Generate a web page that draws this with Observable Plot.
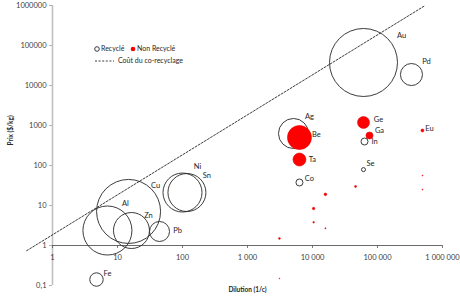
<!DOCTYPE html>
<html><head><meta charset="utf-8">
<script src="https://cdn.jsdelivr.net/npm/d3@7"></script>
<script src="https://cdn.jsdelivr.net/npm/@observablehq/plot@0.6"></script>
<style>
body{margin:0;background:#fff}
#chart{width:460px;height:298px}
svg{font-family:Lato,"Open Sans",sans-serif}
</style>
</head><body><div id="chart"></div>
<script>
// ---- Data: Recyclé (open bubbles)
const recNames    = ["Au","Pd","Ag","In","Se","Co","Cu","Al","Zn","Pb","Ni","Sn","Fe"];
const recDilution = [60900,333000,5100,63100,60900,6300,14.8,7.0,16.4,44.3,100,117,4.75];
const recPrix     = [37600,18800,631,398,79,37.6,7.1,2.37,2.37,2.24,21.1,21.1,0.141];
const recTaille   = [100,10.5,19.5,1.06,0.35,1.06,88.6,52,28,8.65,32.9,31.2,3.9];

// ---- Data: Non Recyclé (red bubbles)
const nonNames    = ["Be","Ge","Ga","Eu","Ta","","","","","","","","",""];
const nonDilution = [6300,60900,75300,491000,6300,46000,15800,10400,10400,15800,3100,491000,491000,3100];
const nonPrix     = [501,1190,562,750,141,30,19,8.4,3.8,2.7,1.5,56,25,0.15];
const nonTaille   = [12.5,3.1,1.06,0.19,3.65,0.087,0.146,0.125,0.055,0.03,0.07,0.02,0.02,0.014];

// ---- Coût du co-recyclage (dashed line)
const coutDilution = [0.4, 520000];
const coutPrix     = [0.74, 960000];

// ---- Ticks
const xTicks = [1,10,100,1000,10000,100000,1000000];
const xTickLabels = ["1","10","100","1 000","10 000","100 000","1 000 000"];
const yTicks = [0.1,1,10,100,1000,10000,100000,1000000];
const yTickLabels = ["0,1","1","10","100","1000","10000","100000","1000000"];

const rec = recNames.map((n,i)=>({name:n, x:recDilution[i], y:recPrix[i], s:recTaille[i]}));
const non = nonNames.map((n,i)=>({name:n, x:nonDilution[i], y:nonPrix[i], s:nonTaille[i]}));
const cout = coutDilution.map((x,i)=>({x, y:coutPrix[i]}));

// label placement (offsets from bubble centre, px)
const labelOffsets = {Au:[38,-27],Pd:[15,-13],Ag:[16,-17],Be:[17,-3],Ge:[15,-3],Ga:[10,-5],In:[10,0],
  Eu:[7,-2],Ta:[13,0],Se:[7,-6],Co:[10,-4],Cu:[27,-26],Al:[18,-27],Zn:[17,-15],Pb:[18,-1],
  Ni:[15,-26],Sn:[20,-17],Fe:[11,-6]};
const labelled = [...rec, ...non].filter(d=>d.name);

const tickColor = "#404040";
const plot = Plot.plot({
  width:460, height:298,
  marginLeft:52, marginRight:18, marginTop:5, marginBottom:13,
  x:{type:"log", domain:[1,1e6], axis:null},
  y:{type:"log", domain:[0.1,1e6], axis:null},
  r:{type:"sqrt", domain:[0,100], range:[0,34]},
  style:{fontFamily:"Lato, 'Open Sans', sans-serif", background:"#fff"},
  marks:[
    Plot.ruleX([1], {stroke:"#c0c0c0", strokeWidth:1.6}),
    Plot.ruleY([1], {stroke:"#595959", strokeWidth:0.9}),
    Plot.ruleX(xTicks, {x:d=>d, y1:1, y2:1, insetBottom:-3, stroke:"#595959", strokeWidth:0.8}),
    Plot.text(xTicks, {x:d=>d, y:1, dy:12, text:(d,i)=>xTickLabels[i], fontSize:7.5, fill:tickColor}),
    Plot.ruleY(yTicks, {y:d=>d, x1:1, x2:1, insetLeft:-3, stroke:"#a0a0a0", strokeWidth:0.8}),
    Plot.text(yTicks, {x:1, y:d=>d, dx:-6, text:(d,i)=>yTickLabels[i], textAnchor:"end", fontSize:7.5, fill:tickColor}),
    Plot.dot(rec, {x:"x", y:"y", r:"s", fill:"none", stroke:"#262626", strokeWidth:0.9}),
    Plot.dot(non, {x:"x", y:"y", r:"s", fill:"#ff0000", stroke:"#e60000", strokeWidth:0.6}),
    Plot.line(cout, {x:"x", y:"y", stroke:"#262626", strokeWidth:0.9, strokeDasharray:"2,1.6"}),
    ...labelled.map(d=>Plot.text([d], {x:"x", y:"y", text:"name", dx:labelOffsets[d.name][0], dy:labelOffsets[d.name][1], fontSize:7.5, fill:"#262626"})),
    Plot.text(["Dilution (1/c)"], {frameAnchor:"bottom", dy:6, text:d=>d, fontSize:6.5, fontWeight:"bold", fill:"#262626"}),
    Plot.text(["Prix ($/kg)"], {frameAnchor:"left", dx:-42, rotate:-90, text:d=>d, fontSize:6.5, fontWeight:"bold", fill:"#262626"})
  ]
});
document.getElementById("chart").appendChild(plot);

// legend
const svg = d3.select(plot);
const lg = svg.append("g").attr("font-family","Lato, 'Open Sans', sans-serif").attr("font-size",7)
  .attr("fill","#262626").attr("text-anchor","start");
lg.append("circle").attr("cx",97).attr("cy",49).attr("r",2.3).attr("fill","none").attr("stroke","#262626").attr("stroke-width",0.9);
lg.append("text").attr("x",101).attr("y",49).attr("dy","0.35em").text("Recyclé");
lg.append("circle").attr("cx",133).attr("cy",49).attr("r",2.3).attr("fill","#ff0000");
lg.append("text").attr("x",137).attr("y",49).attr("dy","0.35em").text("Non Recyclé");
lg.append("line").attr("x1",95).attr("x2",114).attr("y1",61).attr("y2",61).attr("stroke","#262626").attr("stroke-width",0.9).attr("stroke-dasharray","2,1.6");
lg.append("text").attr("x",118).attr("y",61).attr("dy","0.35em").text("Coût du co-recyclage");
</script>
</body></html>
